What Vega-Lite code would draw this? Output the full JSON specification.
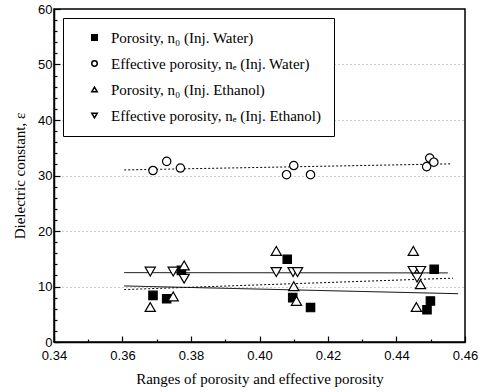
{
  "$schema": "https://vega.github.io/schema/vega-lite/v6.json",
  "width": 411,
  "height": 333,
  "autosize": "none",
  "padding": {"left": 54, "top": 9, "right": 16, "bottom": 50},
  "background": "white",
  "config": {
    "view": {"stroke": "black", "strokeWidth": 1.5},
    "axis": {
      "domainColor": "black",
      "domainWidth": 1.5,
      "tickColor": "black",
      "tickWidth": 1.2,
      "labelColor": "black",
      "labelFont": "Liberation Sans",
      "labelFontSize": 13,
      "labelOverlap": false,
      "titleFont": "Liberation Serif",
      "titleFontSize": 15,
      "titleFontWeight": "normal",
      "titleColor": "black"
    },
    "legend": {
      "labelFont": "Liberation Serif",
      "labelFontSize": 15,
      "labelColor": "black",
      "labelLimit": 400
    }
  },
  "datasets": {
    "points": [
      {"series": "Porosity, n₀ (Inj. Water)", "x": 0.3689, "y": 8.4},
      {"series": "Porosity, n₀ (Inj. Water)", "x": 0.3729, "y": 7.8},
      {"series": "Porosity, n₀ (Inj. Water)", "x": 0.3772, "y": 12.9},
      {"series": "Porosity, n₀ (Inj. Water)", "x": 0.4081, "y": 14.9},
      {"series": "Porosity, n₀ (Inj. Water)", "x": 0.4097, "y": 8.0},
      {"series": "Porosity, n₀ (Inj. Water)", "x": 0.4149, "y": 6.2},
      {"series": "Porosity, n₀ (Inj. Water)", "x": 0.4489, "y": 5.8},
      {"series": "Porosity, n₀ (Inj. Water)", "x": 0.4499, "y": 7.4},
      {"series": "Porosity, n₀ (Inj. Water)", "x": 0.4510, "y": 13.1},
      {"series": "Effective porosity, nₑ (Inj. Water)", "x": 0.3689, "y": 30.9},
      {"series": "Effective porosity, nₑ (Inj. Water)", "x": 0.3729, "y": 32.55},
      {"series": "Effective porosity, nₑ (Inj. Water)", "x": 0.3769, "y": 31.35},
      {"series": "Effective porosity, nₑ (Inj. Water)", "x": 0.4079, "y": 30.15},
      {"series": "Effective porosity, nₑ (Inj. Water)", "x": 0.4100, "y": 31.8},
      {"series": "Effective porosity, nₑ (Inj. Water)", "x": 0.4149, "y": 30.15},
      {"series": "Effective porosity, nₑ (Inj. Water)", "x": 0.4488, "y": 31.6},
      {"series": "Effective porosity, nₑ (Inj. Water)", "x": 0.4497, "y": 33.15},
      {"series": "Effective porosity, nₑ (Inj. Water)", "x": 0.4509, "y": 32.4},
      {"series": "Porosity, n₀ (Inj. Ethanol)", "x": 0.3681, "y": 6.3},
      {"series": "Porosity, n₀ (Inj. Ethanol)", "x": 0.3748, "y": 8.2},
      {"series": "Porosity, n₀ (Inj. Ethanol)", "x": 0.3780, "y": 13.8},
      {"series": "Porosity, n₀ (Inj. Ethanol)", "x": 0.4049, "y": 16.4},
      {"series": "Porosity, n₀ (Inj. Ethanol)", "x": 0.4100, "y": 10.05},
      {"series": "Porosity, n₀ (Inj. Ethanol)", "x": 0.4108, "y": 7.4},
      {"series": "Porosity, n₀ (Inj. Ethanol)", "x": 0.4449, "y": 16.4},
      {"series": "Porosity, n₀ (Inj. Ethanol)", "x": 0.4458, "y": 6.3},
      {"series": "Porosity, n₀ (Inj. Ethanol)", "x": 0.4470, "y": 10.4},
      {"series": "Effective porosity, nₑ (Inj. Ethanol)", "x": 0.3681, "y": 12.7},
      {"series": "Effective porosity, nₑ (Inj. Ethanol)", "x": 0.3748, "y": 12.7},
      {"series": "Effective porosity, nₑ (Inj. Ethanol)", "x": 0.3780, "y": 11.4},
      {"series": "Effective porosity, nₑ (Inj. Ethanol)", "x": 0.4049, "y": 12.6},
      {"series": "Effective porosity, nₑ (Inj. Ethanol)", "x": 0.4098, "y": 12.6},
      {"series": "Effective porosity, nₑ (Inj. Ethanol)", "x": 0.4111, "y": 12.6},
      {"series": "Effective porosity, nₑ (Inj. Ethanol)", "x": 0.4449, "y": 12.8},
      {"series": "Effective porosity, nₑ (Inj. Ethanol)", "x": 0.4470, "y": 12.8},
      {"series": "Effective porosity, nₑ (Inj. Ethanol)", "x": 0.4460, "y": 11.6}
    ],
    "lines": [
      {"fit": "eW", "style": "dotted", "x": 0.3605, "y": 31.0},
      {"fit": "eW", "style": "dotted", "x": 0.4561, "y": 32.1},
      {"fit": "eE", "style": "solid", "x": 0.3605, "y": 12.5},
      {"fit": "eE", "style": "solid", "x": 0.4550, "y": 12.45},
      {"fit": "pW", "style": "solid", "x": 0.3605, "y": 10.1},
      {"fit": "pW", "style": "solid", "x": 0.4580, "y": 8.7},
      {"fit": "pE", "style": "dotted", "x": 0.3605, "y": 9.45},
      {"fit": "pE", "style": "dotted", "x": 0.4565, "y": 11.5}
    ]
  },
  "layer": [
    {
      "data": {"name": "lines"},
      "mark": {"type": "line", "color": "black", "strokeWidth": 1},
      "encoding": {
        "x": {
          "field": "x", "type": "quantitative",
          "scale": {"domain": [0.34, 0.46], "nice": false, "zero": false},
          "axis": {
            "title": "Ranges of porosity and effective porosity",
            "values": [0.34, 0.35, 0.36, 0.37, 0.38, 0.39, 0.40, 0.41, 0.42, 0.43, 0.44, 0.45, 0.46],
            "tickCount": 100,
            "labelExpr": "round(datum.value*100) % 2 == 0 ? format(datum.value, '.2f') : ''",
            "tickSize": {"condition": {"test": "round(datum.value*100) % 2 == 0", "value": -6}, "value": -3},
            "labelPadding": 13,
            "titlePadding": 6,
            "grid": false,
            "labelFlush": false
          }
        },
        "y": {
          "field": "y", "type": "quantitative",
          "scale": {"domain": [0, 60], "nice": false},
          "axis": {
            "title": "Dielectric constant,  ε",
            "values": [0, 2, 4, 6, 8, 10, 12, 14, 16, 18, 20, 22, 24, 26, 28, 30, 32, 34, 36, 38, 40, 42, 44, 46, 48, 50, 52, 54, 56, 58, 60],
            "tickCount": 100,
            "labelExpr": "datum.value % 10 == 0 ? format(datum.value, 'd') : ''",
            "tickSize": {"condition": {"test": "datum.value % 10 == 0", "value": -6}, "value": -3},
            "labelPadding": 8,
            "titlePadding": 10,
            "grid": true,
            "gridColor": "#999999",
            "gridDash": [1, 3],
            "gridWidth": 1,
            "gridOpacity": {"condition": {"test": "datum.value % 10 == 0 && datum.value > 0 && datum.value < 60", "value": 1}, "value": 0},
            "labelFlush": false
          }
        },
        "detail": {"field": "fit"},
        "strokeDash": {
          "field": "style", "type": "nominal",
          "scale": {"domain": ["solid", "dotted"], "range": [[1, 0], [2, 2]]},
          "legend": null
        }
      }
    },
    {
      "data": {"name": "points"},
      "transform": [{"filter": {"field": "series", "oneOf": ["Porosity, n₀ (Inj. Water)", "Effective porosity, nₑ (Inj. Water)"]}}],
      "mark": {"type": "point", "filled": true, "size": 70, "stroke": "black", "strokeWidth": 1.2, "opacity": 1, "strokeOpacity": 1, "fillOpacity": 1},
      "encoding": {
        "x": {"field": "x", "type": "quantitative"},
        "y": {"field": "y", "type": "quantitative"},
        "shape": {
          "field": "series", "type": "nominal",
          "scale": {
            "domain": ["Porosity, n₀ (Inj. Water)", "Effective porosity, nₑ (Inj. Water)", "Porosity, n₀ (Inj. Ethanol)", "Effective porosity, nₑ (Inj. Ethanol)"],
            "range": ["square", "circle", "triangle-up", "triangle-down"]
          },
          "legend": {
            "title": null,
            "orient": "none",
            "legendX": 9,
            "legendY": 9,
            "padding": 12,
            "symbolOffset": 12,
            "labelOffset": 9,
            "rowPadding": 10,
            "strokeColor": "black",
            "fillColor": "white",
            "symbolSize": 30,
            "labelExpr": "datum.label + '\u2003\u2003'",
            "encode": {"symbols": {"update": {"stroke": {"value": "black"}, "strokeWidth": {"value": 1.2}}}}
          }
        },
        "fill": {
          "field": "series", "type": "nominal",
          "scale": {
            "domain": ["Porosity, n₀ (Inj. Water)", "Effective porosity, nₑ (Inj. Water)", "Porosity, n₀ (Inj. Ethanol)", "Effective porosity, nₑ (Inj. Ethanol)"],
            "range": ["black", "white", "white", "white"]
          },
          "legend": {
            "title": null,
            "orient": "none",
            "legendX": 9,
            "legendY": 9,
            "padding": 12,
            "symbolOffset": 12,
            "labelOffset": 9,
            "rowPadding": 10,
            "strokeColor": "black",
            "fillColor": "white",
            "symbolSize": 30,
            "labelExpr": "datum.label + '\u2003\u2003'",
            "encode": {"symbols": {"update": {"stroke": {"value": "black"}, "strokeWidth": {"value": 1.2}}}}
          }
        }
      }
    },
    {
      "data": {"name": "points"},
      "transform": [{"filter": {"field": "series", "oneOf": ["Porosity, n₀ (Inj. Ethanol)", "Effective porosity, nₑ (Inj. Ethanol)"]}}],
      "mark": {"type": "point", "filled": true, "size": 105, "stroke": "black", "strokeWidth": 1.2, "opacity": 1, "strokeOpacity": 1, "fillOpacity": 1},
      "encoding": {
        "x": {"field": "x", "type": "quantitative"},
        "y": {"field": "y", "type": "quantitative"},
        "shape": {"field": "series", "type": "nominal"},
        "fill": {"field": "series", "type": "nominal"}
      }
    }
  ]
}
